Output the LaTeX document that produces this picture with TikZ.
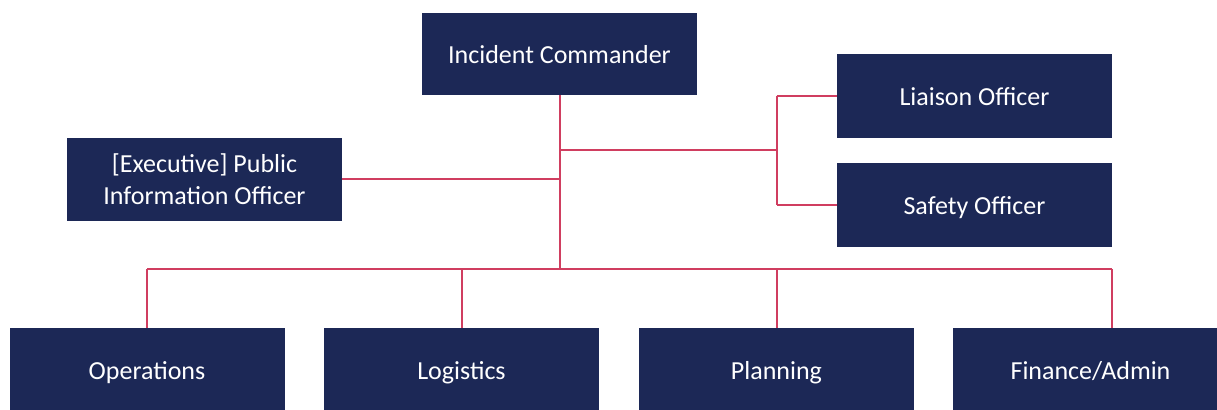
\documentclass[tikz,border=0pt]{standalone}
\usepackage{fontspec}
\setmainfont{Carlito}
\definecolor{navy}{RGB}{28,40,86}
\definecolor{linkred}{RGB}{208,62,96}
\tikzset{
  orgbox/.style={rectangle, fill=navy, text=white, inner sep=0pt,
    minimum width=137.5pt, minimum height=41.5pt, align=center,
    font=\fontsize{13}{16}\selectfont},
  oneline/.style={text height=11pt, text depth=1pt},
  link/.style={draw=linkred, line width=1pt}
}
\begin{document}
\begin{tikzpicture}[x=0.5pt,y=-0.5pt]
\useasboundingbox (0,0) rectangle (1217,410);
\clip (0,0) rectangle (1217,410);
\node[orgbox, oneline, minimum height=41pt] (ic) at (559.5,54) {Incident Commander};
\node[orgbox, oneline, minimum height=42pt] (lia) at (974.5,96) {Liaison Officer};
\node[orgbox, oneline, minimum height=42pt] (saf) at (974.5,205) {Safety Officer};
\node[orgbox] (pio) at (204.5,179.5) {[Executive] Public\\Information Officer};
\node[orgbox, oneline] (ops) at (147,370) {Operations};
\node[orgbox, oneline] (log) at (461.5,370) {Logistics};
\node[orgbox, oneline] (pla) at (776.5,370) {Planning};
\node[orgbox, oneline] (fin) at (1090.5,370) {Finance/Admin};
\coordinate (hub) at (559.5,269);
\coordinate (sj) at (559.5,150);
\coordinate (sk) at (776.5,150);
\coordinate (busR) at (1112,269);
\draw[link] (ic.south) -- (hub);
\draw[link] (ops.north |- hub) -- (busR);
\draw[link] (ops.north |- hub) -- (ops.north);
\draw[link] (log.north |- hub) -- (log.north);
\draw[link] (pla.north |- hub) -- (pla.north);
\draw[link] (busR) -- (busR |- fin.north);
\draw[link] (sj) -- (sk);
\draw[link] (sk |- lia.west) -- (sk |- saf.west);
\draw[link] (sk |- lia.west) -- (lia.west);
\draw[link] (sk |- saf.west) -- (saf.west);
\draw[link] (pio.east) -- (pio.east -| ic.south);
\end{tikzpicture}
\end{document}
